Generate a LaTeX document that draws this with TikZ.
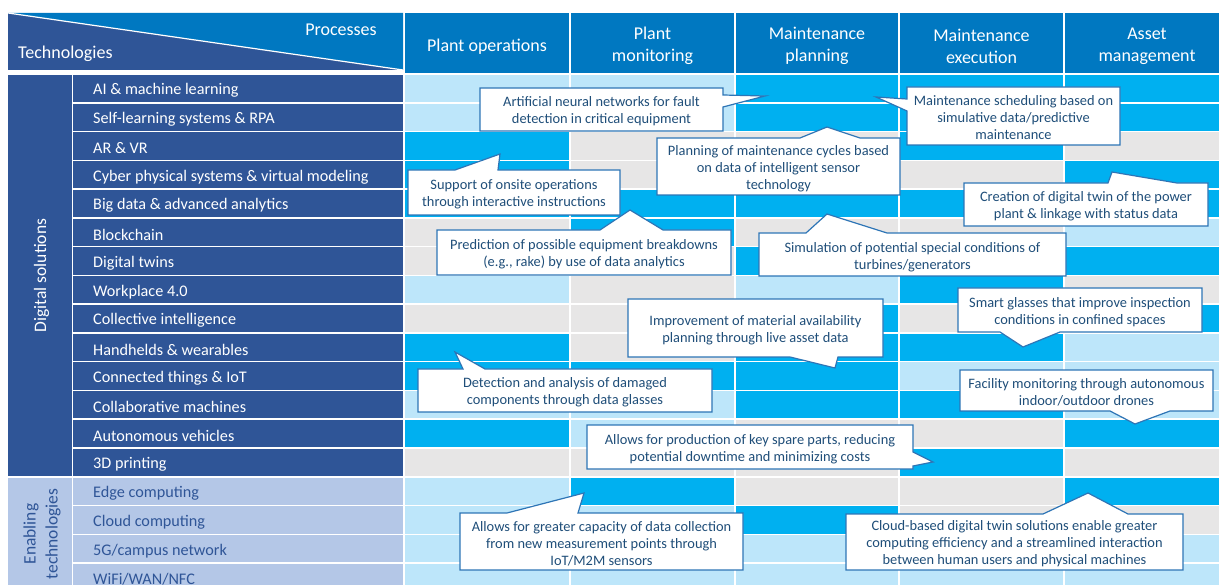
\documentclass[tikz,border=0pt]{standalone}
\usepackage{fontspec}
\setmainfont{Carlito}
\definecolor{navy}{HTML}{2F5597}
\definecolor{headblue}{HTML}{0078C1}
\definecolor{cL}{HTML}{BDE6FA}
\definecolor{cB}{HTML}{00B0F0}
\definecolor{cG}{HTML}{E7E6E6}
\definecolor{enbg}{HTML}{B4C7E7}
\definecolor{callb}{HTML}{2E75B6}
\definecolor{callt}{HTML}{1F4E79}
\tikzset{
  lab/.style={anchor=west, text=white, inner sep=0pt, yshift=-1.5pt, font=\fontsize{16.2}{18}\selectfont},
  elab/.style={lab, text=navy},
  hd/.style={text=white, align=center, inner sep=0pt, yshift=-2pt, font=\fontsize{18}{22}\selectfont},
  grp/.style={align=center, inner sep=0pt, rotate=90, font=\fontsize{17.5}{22}\selectfont},
  callbox/.style={draw=callb, line width=1.2pt, fill=white, line join=miter},
  calltxt/.style={text=callt, align=center, inner sep=0pt, yshift=-1.5pt, font=\fontsize{14.4}{17}\selectfont},
}
\begin{document}
\begin{tikzpicture}[x=1pt,y=-1pt]
\useasboundingbox (0,0) rectangle (1219,585);
\clip (0,0) rectangle (1219,585);
\fill[white] (0,0) rectangle (1219,585);
% header corner
\fill[navy] (8,13) -- (8,70) -- (403,70) -- cycle;
\fill[headblue] (8,13) -- (403,13) -- (403,70) -- cycle;
\draw[white, line width=1.2pt] (8,13) -- (403,70);
\node[hd, anchor=west] (techhead) at (18,52) {Technologies};
\node[hd] (prochead) at (341,28) {Processes};
% column headers
\fill[headblue] (405,13) rectangle (569,73);
\fill[headblue] (571,13) rectangle (734,73);
\fill[headblue] (736,13) rectangle (898,73);
\fill[headblue] (900,13) rectangle (1063,73);
\fill[headblue] (1065,13) rectangle (1219,73);
\node[hd] (p1) at (487,45) {Plant operations};
\node[hd] (p2) at (652.5,44) {Plant\\monitoring};
\node[hd] (p3) at (817,44) {Maintenance\\planning};
\node[hd] (p4) at (981.5,44) {Maintenance\\execution};
\node[hd] (p5) at (1147,44) {Asset\\management};
% group column
\fill[navy] (8,75) rectangle (71.5,475.8);
\fill[enbg] (8,477.5) rectangle (71.5,595);
\node[grp, text=white] (ds) at (41.5,275.5) {Digital solutions};
\node[grp, text=navy] (et) at (42,534) {Enabling\\technologies};
% grid cells
\foreach \r/\a/\b/\c/\d/\e in {
 0/L/L/B/B/B, 1/L/L/B/B/B, 2/B/G/G/B/G, 3/B/G/G/G/B, 4/B/B/B/B/B,
 5/G/B/G/G/L, 6/G/G/B/G/B, 7/L/G/L/B/G, 8/G/G/B/G/B, 9/B/G/B/B/L,
 10/B/B/B/L/L, 11/L/L/B/B/L, 12/B/L/G/G/B, 13/G/G/G/B/G, 14/L/B/G/G/B,
 15/L/L/B/G/G, 16/L/L/L/L/L, 17/L/L/L/L/L} {
  \pgfmathsetmacro\yt{75+28.75*\r}
  \pgfmathsetmacro\yb{\yt+27.25}
  \fill[fill=c\a] (405,\yt) rectangle (569,\yb);
  \fill[fill=c\b] (571,\yt) rectangle (734,\yb);
  \fill[fill=c\c] (736,\yt) rectangle (898,\yb);
  \fill[fill=c\d] (900,\yt) rectangle (1063,\yb);
  \fill[fill=c\e] (1065,\yt) rectangle (1219,\yb);
}
% technology labels
\foreach \r/\t in {0/AI \& machine learning, 1/Self-learning systems \& RPA, 2/AR \& VR,
 3/Cyber physical systems \& virtual modeling, 4/Big data \& advanced analytics, 5/Blockchain,
 6/Digital twins, 7/Workplace 4.0, 8/Collective intelligence, 9/Handhelds \& wearables,
 10/Connected things \& IoT, 11/Collaborative machines, 12/Autonomous vehicles, 13/3D printing} {
  \pgfmathsetmacro\yt{75+28.75*\r}
  \fill[navy] (73,\yt) rectangle (403,\yt+27.25);
  \node[lab] (tech\r) at (93,\yt+14.2) {\t};
}
\foreach \r/\t in {14/{Edge computing}, 15/{Cloud computing}, 16/{5G/campus network}, 17/{WiFi/WAN/NFC}} {
  \pgfmathsetmacro\yt{75+28.75*\r}
  \fill[enbg] (73,\yt) rectangle (403,\yt+27.25);
  \node[elab] (tech\r) at (93,\yt+14.2) {\t};
}
% callouts
\path[callbox] (480,88) -- (723,88) -- (723,95) -- (765,96) -- (723,107) -- (723,131) -- (480,131) -- cycle;
\node[calltxt] (c1) at (601.5,109.5) {Artificial neural networks for fault\\detection in critical equipment};

\path[callbox] (907,87) -- (1120,87) -- (1120,145) -- (907,145) -- (907,111) -- (876,97) -- (907,99) -- cycle;
\node[calltxt] (c2) at (1013.5,116) {Maintenance scheduling based on\\simulative data/predictive\\maintenance};

\path[callbox] (657,138) -- (800,138) -- (827,127) -- (860,138) -- (900,138) -- (900,195) -- (657,195) -- cycle;
\node[calltxt] (c3) at (778.5,167) {Planning of maintenance cycles based\\on data of intelligent sensor\\technology};

\path[callbox] (408,170) -- (455,170) -- (500,154) -- (498,170) -- (620,170) -- (620,215) -- (408,215) -- cycle;
\node[calltxt] (c4) at (514,193) {Support of onsite operations\\through interactive instructions};

\path[callbox] (964,183) -- (1108,183) -- (1112,172) -- (1177,183) -- (1208,183) -- (1208,226) -- (964,226) -- cycle;
\node[calltxt] (c5) at (1086,205) {Creation of digital twin of the power\\plant \& linkage with status data};

\path[callbox] (437,230) -- (600,230) -- (630,210) -- (663,230) -- (731,230) -- (731,275) -- (437,275) -- cycle;
\node[calltxt] (c6) at (584,253) {Prediction of possible equipment breakdowns\\(e.g., rake) by use of data analytics};

\path[callbox] (759,233) -- (806,233) -- (827,214) -- (887,233) -- (1066,233) -- (1066,276) -- (759,276) -- cycle;
\node[calltxt] (c7) at (912.5,255.5) {Simulation of potential special conditions of\\turbines/generators};

\path[callbox] (628,299) -- (883,299) -- (883,357) -- (838,357) -- (835,368) -- (790,357) -- (628,357) -- cycle;
\node[calltxt] (c8) at (755.5,328.5) {Improvement of material availability\\planning through live asset data};

\path[callbox] (958,288) -- (1202,288) -- (1202,332) -- (1060,332) -- (1023,347) -- (1000,332) -- (958,332) -- cycle;
\node[calltxt] (c9) at (1080,311) {Smart glasses that improve inspection\\conditions in confined spaces};

\path[callbox] (418,369) -- (463,369) -- (455,352) -- (485,369) -- (712,369) -- (712,412) -- (418,412) -- cycle;
\node[calltxt] (c10) at (565,391) {Detection and analysis of damaged\\components through data glasses};

\path[callbox] (960,370) -- (1213,370) -- (1213,411) -- (1170,411) -- (1135,424) -- (1110,411) -- (960,411) -- cycle;
\node[calltxt] (c11) at (1086.5,391) {Facility monitoring through autonomous\\indoor/outdoor drones};

\path[callbox] (587,425) -- (913,425) -- (913,452) -- (933,462) -- (913,466) -- (913,469) -- (587,469) -- cycle;
\node[calltxt] (c12) at (750,448) {Allows for production of key spare parts, reducing\\potential downtime and minimizing costs};

\path[callbox] (460,513) -- (507,513) -- (584,493) -- (578,513) -- (743,513) -- (743,570) -- (460,570) -- cycle;
\node[calltxt] (c13) at (601.5,542) {Allows for greater capacity of data collection\\from new measurement points through\\IoT/M2M sensors};

\path[callbox] (846,514) -- (1043,514) -- (1088,493) -- (1128,514) -- (1183,514) -- (1183,570) -- (846,570) -- cycle;
\node[calltxt] (c14) at (1014.5,542) {Cloud-based digital twin solutions enable greater\\computing efficiency and a streamlined interaction\\between human users and physical machines};
\end{tikzpicture}
\end{document}
